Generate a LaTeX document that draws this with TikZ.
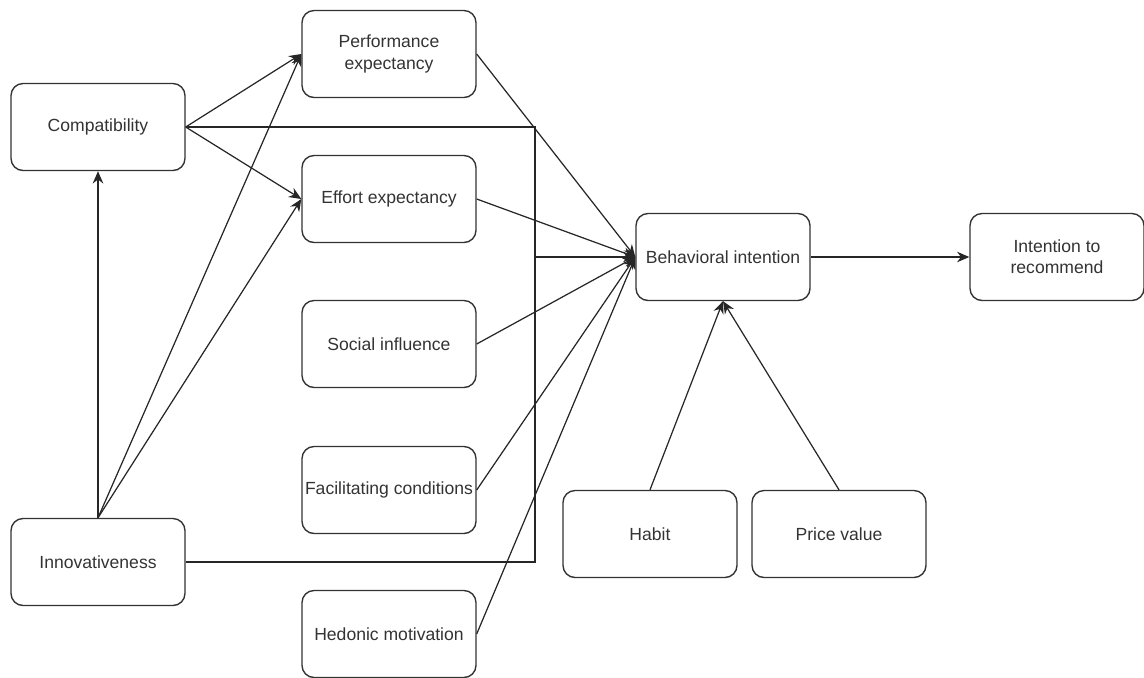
\documentclass[tikz,border=0pt]{standalone}
\usepackage{fontspec}
\setmainfont{Liberation Sans}
\usetikzlibrary{arrows.meta}
\definecolor{ink}{HTML}{333333}
\begin{document}
\begin{tikzpicture}[x=0.02cm,y=-0.02cm,
  box/.style={draw=ink, line width=0.8pt, rounded corners=0.24cm, minimum width=3.48cm, minimum height=1.74cm, align=center, text=ink, font=\fontsize{10}{12}\selectfont, inner sep=1pt},
  link/.style={draw=black!85, line width=0.7pt, -{Stealth[length=7pt,width=6pt]}},
  plain/.style={draw=black!85, line width=0.7pt}]
\useasboundingbox (0,0) rectangle (1144,677);
\node[box] (comp) at (98,127) {Compatibility};
\node[box] (perf) at (389,54) {Performance\\expectancy};
\node[box] (eff) at (389,199) {Effort expectancy};
\node[box] (soc) at (389,344) {Social influence};
\node[box] (fac) at (389,490) {Facilitating conditions};
\node[box] (hed) at (389,634) {Hedonic motivation};
\node[box] (inn) at (98,562) {Innovativeness};
\node[box] (bi) at (723,257) {Behavioral intention};
\node[box] (ir) at (1057,257) {Intention to\\recommend};
\node[box] (hab) at (650,534) {Habit};
\node[box] (pv) at (839,534) {Price value};
\coordinate (j) at (535,257);
% compatibility links
\draw[link] (comp.east) -- (perf.west);
\draw[link] (comp.east) -- (eff.west);
\draw[link] (comp.east) -| (j) -- (bi.west);
\draw[plain] (inn.east) -| (j);
% innovativeness links
\draw[link] (inn.north) -- (comp.south);
\draw[link] (inn.north) -- (perf.west);
\draw[link] (inn.north) -- (eff.west);
% to behavioral intention
\draw[link] (perf.east) -- (bi.west);
\draw[link] (eff.east) -- (bi.west);
\draw[link] (soc.east) -- (bi.west);
\draw[link] (fac.east) -- (bi.west);
\draw[link] (hed.east) -- (bi.west);
\draw[link] (hab.north) -- (bi.south);
\draw[link] (pv.north) -- (bi.south);
\draw[link] (bi.east) -- (ir.west);
\end{tikzpicture}
\end{document}
